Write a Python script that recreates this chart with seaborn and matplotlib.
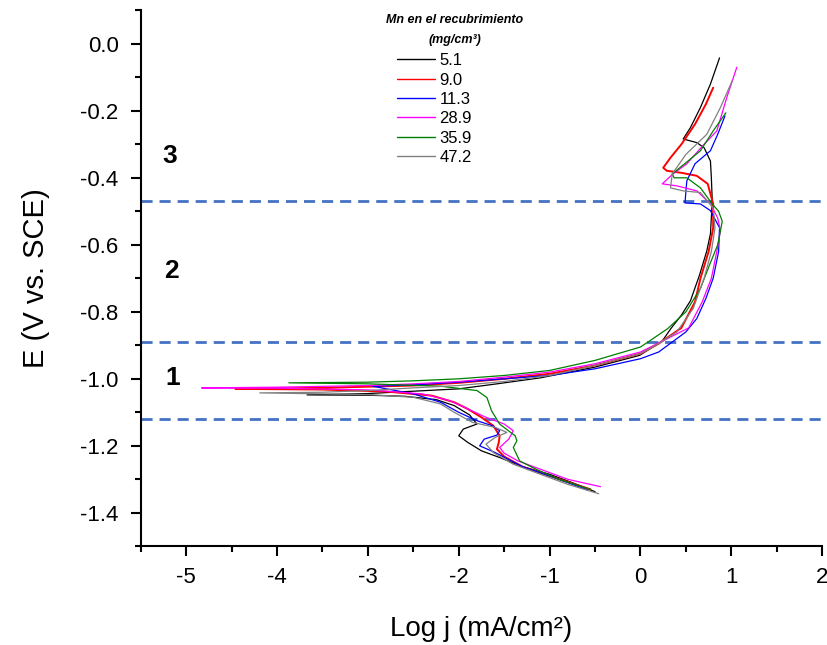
import numpy as np
import pandas as pd
import matplotlib
matplotlib.use("Agg")
import matplotlib.pyplot as plt
from matplotlib.ticker import MultipleLocator, FormatStrFormatter
import seaborn as sns

# Polarization curves (log j vs E), one path per Mn content
series_names = ["5.1", "9.0", "11.3", "28.9", "35.9", "47.2"]
series_colors = ["#000000", "#FF0000", "#0000FF", "#FF00FF", "#008000", "#808080"]
series_widths = [0.9, 1.4, 0.9, 0.9, 0.9, 0.9]

logj_51 = [-0.50, -0.75, -1.0, -1.3, -1.55, -1.75, -1.9, -2.0, -1.95, -1.8, -1.88, -2.05, -2.25, -2.6, -3.0, -3.67,
           -3.0, -2.5, -2.0, -1.58, -1.1, -0.5, -0.01, 0.24, 0.34, 0.45, 0.55, 0.65, 0.73, 0.77, 0.79, 0.78, 0.77,
           0.7, 0.62, 0.47, 0.55, 0.66, 0.77, 0.87]
e_51 = [-1.337, -1.31, -1.285, -1.262, -1.235, -1.215, -1.19, -1.17, -1.15, -1.135, -1.108, -1.08, -1.062, -1.052,
        -1.049, -1.048, -1.044, -1.037, -1.03, -1.015, -0.997, -0.965, -0.93, -0.887, -0.848, -0.81, -0.767, -0.69,
        -0.618, -0.567, -0.469, -0.4, -0.35, -0.31, -0.295, -0.284, -0.25, -0.19, -0.12, -0.042]

logj_90 = [-0.55, -1.0, -1.3, -1.5, -1.58, -1.56, -1.55, -1.62, -1.75, -1.9, -2.05, -2.3, -2.8, -3.5, -4.46,
           -3.5, -2.5, -2.0, -1.5, -1.0, -0.5, 0.0, 0.2, 0.45, 0.6, 0.66, 0.75, 0.8, 0.80, 0.74, 0.62, 0.45,
           0.29, 0.25, 0.33, 0.45, 0.6, 0.72, 0.80]
e_90 = [-1.33, -1.29, -1.262, -1.232, -1.21, -1.19, -1.17, -1.14, -1.115, -1.09, -1.07, -1.05, -1.038, -1.032, -1.03,
        -1.027, -1.02, -1.012, -1.0, -0.985, -0.96, -0.925, -0.895, -0.848, -0.77, -0.7, -0.62, -0.55, -0.478,
        -0.418, -0.394, -0.385, -0.379, -0.37, -0.34, -0.3, -0.24, -0.18, -0.131]

logj_113 = [-0.58, -1.0, -1.3, -1.6, -1.77, -1.72, -1.58, -1.55, -1.63, -1.8, -2.0, -2.2, -2.5, -2.95,
            -2.5, -2.0, -1.5, -1.0, -0.5, 0.0, 0.2, 0.35, 0.5, 0.62, 0.72, 0.8, 0.86, 0.87, 0.77, 0.66, 0.49,
            0.5, 0.51, 0.6, 0.77, 0.85, 0.93]
e_113 = [-1.332, -1.29, -1.262, -1.22, -1.2, -1.18, -1.168, -1.155, -1.14, -1.125, -1.1, -1.07, -1.045, -1.022,
         -1.018, -1.01, -1.0, -0.99, -0.97, -0.94, -0.92, -0.89, -0.86, -0.82, -0.76, -0.7, -0.62, -0.549, -0.498,
         -0.478, -0.475, -0.44, -0.409, -0.358, -0.319, -0.27, -0.215]

logj_289 = [-0.44, -0.8, -1.1, -1.35, -1.5, -1.55, -1.45, -1.4, -1.5, -1.7, -1.9, -2.1, -2.4, -3.0, -4.0, -4.83,
            -4.0, -3.0, -2.5, -2.0, -1.5, -1.0, -0.5, 0.0, 0.2, 0.53, 0.68, 0.78, 0.84, 0.88, 0.85, 0.77, 0.62,
            0.40, 0.24, 0.35, 0.51, 0.7, 0.84, 0.95, 1.06]
e_289 = [-1.322, -1.3, -1.27, -1.245, -1.222, -1.205, -1.18, -1.155, -1.135, -1.115, -1.09, -1.065, -1.045, -1.033,
         -1.028, -1.027, -1.025, -1.02, -1.015, -1.008, -0.995, -0.98, -0.955, -0.92, -0.893, -0.848, -0.77, -0.7,
         -0.62, -0.558, -0.52, -0.478, -0.439, -0.424, -0.418, -0.39, -0.358, -0.3, -0.26, -0.16, -0.07]

logj_359 = [-0.55, -0.9, -1.15, -1.33, -1.4, -1.36, -1.38, -1.55, -1.64, -1.69, -1.8, -2.2, -3.0, -3.87,
            -3.0, -2.5, -2.0, -1.5, -1.0, -0.5, 0.0, 0.1, 0.3, 0.5, 0.66, 0.76, 0.85, 0.9, 0.86, 0.79, 0.66, 0.51,
            0.37, 0.35, 0.5, 0.66, 0.8, 0.94]
e_359 = [-1.33, -1.3, -1.27, -1.245, -1.205, -1.185, -1.17, -1.135, -1.095, -1.056, -1.035, -1.022, -1.015, -1.012,
         -1.01, -1.006, -1.0, -0.99, -0.975, -0.945, -0.905, -0.887, -0.85, -0.8, -0.73, -0.66, -0.6, -0.53, -0.5,
         -0.478, -0.43, -0.40, -0.40, -0.388, -0.355, -0.319, -0.26, -0.206]

logj_472 = [-0.46, -0.8, -1.1, -1.4, -1.62, -1.7, -1.6, -1.47, -1.6, -1.85, -2.05, -2.2, -2.5, -3.0, -4.19,
            -3.5, -3.0, -2.5, -2.0, -1.5, -1.0, -0.5, 0.0, 0.2, 0.4, 0.58, 0.7, 0.78, 0.82, 0.80, 0.66, 0.47,
            0.33, 0.35, 0.5, 0.73, 0.88, 1.01]
e_472 = [-1.343, -1.315, -1.285, -1.255, -1.22, -1.195, -1.175, -1.16, -1.145, -1.13, -1.1, -1.075, -1.055, -1.047,
         -1.042, -1.04, -1.035, -1.027, -1.02, -1.008, -0.99, -0.96, -0.925, -0.895, -0.86, -0.79, -0.7, -0.62,
         -0.55, -0.49, -0.444, -0.439, -0.43, -0.388, -0.33, -0.27, -0.19, -0.11]

region_lines = [-0.47, -0.89, -1.12]
region_labels = ["3", "2", "1"]
region_label_x = [-5.18, -5.16, -5.15]
region_label_y = [-0.334, -0.678, -0.997]

all_x = [logj_51, logj_90, logj_113, logj_289, logj_359, logj_472]
all_y = [e_51, e_90, e_113, e_289, e_359, e_472]

frames = []
for name, xs, ys in zip(series_names, all_x, all_y):
    frames.append(pd.DataFrame({"logj": xs, "E": ys, "Mn": name}))
df = pd.concat(frames, ignore_index=True)

sns.set_style("ticks")
plt.rcParams["font.family"] = ["Liberation Sans", "DejaVu Sans"]
plt.rcParams["axes.unicode_minus"] = False
plt.rcParams["text.color"] = "black"
plt.rcParams["axes.labelcolor"] = "black"
plt.rcParams["xtick.color"] = "black"
plt.rcParams["ytick.color"] = "black"
plt.rcParams["axes.edgecolor"] = "black"

fig, ax = plt.subplots(figsize=(8.28, 6.45), dpi=100)
fig.subplots_adjust(left=0.170, right=0.993, bottom=0.153, top=0.984)

for y in region_lines:
    ax.axhline(y, color="#4472C4", lw=2, dashes=(4, 2.5), zorder=1)

sns.lineplot(data=df, x="logj", y="E", hue="Mn", hue_order=series_names,
             palette=dict(zip(series_names, series_colors)), size="Mn", size_order=series_names,
             sizes=dict(zip(series_names, series_widths)), units="Mn", estimator=None,
             sort=False, ax=ax, zorder=2)

for lab, lx, ly in zip(region_labels, region_label_x, region_label_y):
    ax.text(lx, ly, lab, fontsize=19, fontweight="bold", ha="center", va="center", color="black")

ax.set_xlim(-5.5, 2)
ax.set_ylim(-1.5, 0.1)
ax.xaxis.set_major_locator(MultipleLocator(1))
ax.xaxis.set_minor_locator(MultipleLocator(0.5))
ax.yaxis.set_major_locator(MultipleLocator(0.2))
ax.yaxis.set_minor_locator(MultipleLocator(0.1))
ax.yaxis.set_major_formatter(FormatStrFormatter("%.1f"))
ax.tick_params(which="major", direction="out", length=7, width=1.5, labelsize=16)
ax.tick_params(which="minor", direction="out", length=4, width=1.5)
ax.tick_params(axis="y", which="major", pad=9)
ax.tick_params(axis="x", which="major", pad=8)
for s in ["left", "bottom"]:
    ax.spines[s].set_linewidth(1.5)
sns.despine(ax=ax)

ax.set_xlabel("Log j (mA/cm²)", fontsize=20, labelpad=20)
ax.set_ylabel("E (V vs. SCE)", fontsize=21, labelpad=22)

handles, labels = ax.get_legend_handles_labels()
leg = ax.legend(handles, labels, loc="upper left", bbox_to_anchor=(0.376, 0.92), frameon=False,
                fontsize=12, labelspacing=0.26, handlelength=2.3, handletextpad=0.25,
                borderpad=0, borderaxespad=0)
for h in leg.get_lines():
    h.set_linewidth(1.0)
ax.text(0.461, 0.964, "Mn en el recubrimiento\n(mg/cm³)", transform=ax.transAxes, ha="center",
        va="center", fontsize=9, fontweight="bold", fontstyle="italic", linespacing=1.9)

fig.savefig("out.png", dpi=100)
